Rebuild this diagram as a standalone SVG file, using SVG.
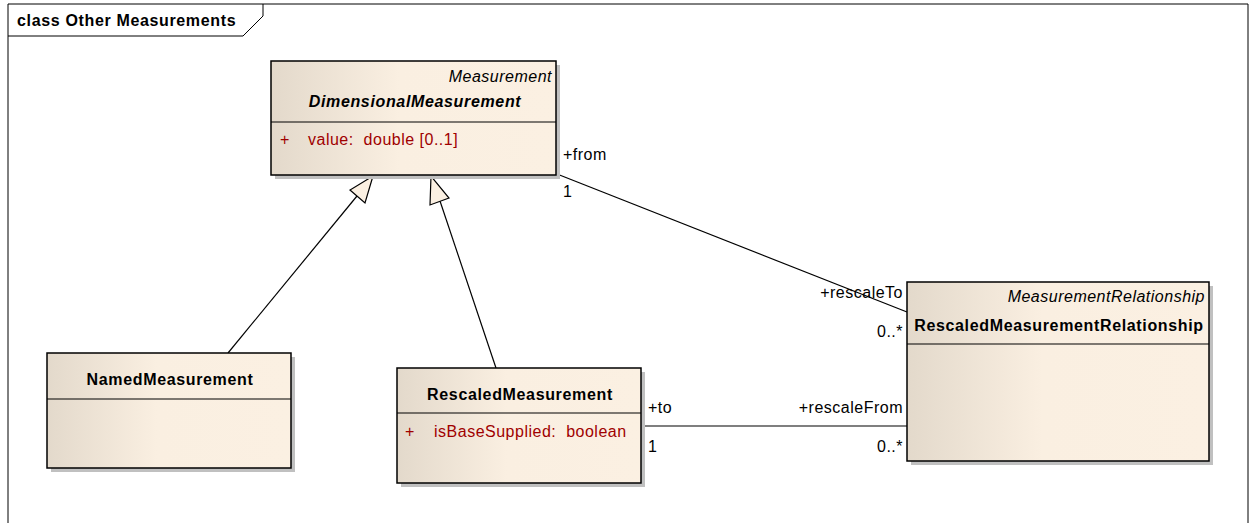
<svg xmlns="http://www.w3.org/2000/svg" width="1249" height="523" viewBox="0 0 1249 523">
<style>
text{font-family:"Liberation Sans",Arial,sans-serif;font-size:16px;letter-spacing:0.5px;fill:#000;white-space:pre}
.b{font-weight:bold;letter-spacing:0.65px}
.i{font-style:italic}
.r{fill:#A00000}
.box{fill:url(#g);stroke:#000;stroke-width:1.5}
.sh{fill:#C0C0C0}
.ln{stroke:#000;stroke-width:1.2;fill:none}
.tri{fill:#FBF0E2;stroke:#000;stroke-width:1.2}
</style>
<defs>
<linearGradient id="g" x1="0" y1="0" x2="1" y2="0">
<stop offset="0" stop-color="#E3D9CB"/>
<stop offset="0.45" stop-color="#FAEFE1"/>
<stop offset="1" stop-color="#FBF0E2"/>
</linearGradient>
</defs>
<rect width="1249" height="523" fill="#fff"/>
<g id="frame">
<path d="M8,530 V4 H1248 V530" fill="none" stroke="#000" stroke-width="1"/>
<path d="M8,36 H243 L263,16 V4" fill="none" stroke="#000" stroke-width="1"/>
<text x="17" y="26" class="b">class Other Measurements</text>
</g>
<g id="connectors">
<line class="ln" x1="557" y1="174" x2="907" y2="312"/>
<line class="ln" x1="641" y1="426" x2="907" y2="426"/>
<line class="ln" x1="228" y1="353" x2="357" y2="196"/>
<polygon class="tri" points="373,176 350,190 365,203"/>
<line class="ln" x1="496" y1="368" x2="440" y2="201"/>
<polygon class="tri" points="431,176 430,205 449,198"/>
<text x="563" y="160">+from</text>
<text x="563" y="197">1</text>
<text x="903" y="298" text-anchor="end">+rescaleTo</text>
<text x="903" y="337" text-anchor="end">0..*</text>
<text x="903" y="413" text-anchor="end">+rescaleFrom</text>
<text x="903" y="452" text-anchor="end">0..*</text>
<text x="648" y="413">+to</text>
<text x="648" y="452">1</text>
</g>
<g id="DimensionalMeasurement">
<rect class="sh" x="275" y="65" width="285" height="114"/>
<rect class="box" x="271" y="61" width="285" height="114"/>
<line class="ln" x1="271" y1="122" x2="556" y2="122"/>
<text x="552" y="82" class="i" text-anchor="end">Measurement</text>
<text x="415" y="107" class="b i" text-anchor="middle">DimensionalMeasurement</text>
<text x="280" y="145" class="r">+</text>
<text x="308" y="145" class="r">value:  double [0..1]</text>
</g>
<g id="NamedMeasurement">
<rect class="sh" x="51" y="357" width="244" height="115"/>
<rect class="box" x="47" y="353" width="244" height="115"/>
<line class="ln" x1="47" y1="399" x2="291" y2="399"/>
<text x="170" y="385" class="b" text-anchor="middle">NamedMeasurement</text>
</g>
<g id="RescaledMeasurement">
<rect class="sh" x="401" y="372" width="244" height="115"/>
<rect class="box" x="397" y="368" width="244" height="115"/>
<line class="ln" x1="397" y1="413" x2="641" y2="413"/>
<text x="520" y="400" class="b" text-anchor="middle">RescaledMeasurement</text>
<text x="405" y="437" class="r">+</text>
<text x="434" y="437" class="r">isBaseSupplied:  boolean</text>
</g>
<g id="RescaledMeasurementRelationship">
<rect class="sh" x="911" y="286" width="302" height="179"/>
<rect class="box" x="907" y="282" width="302" height="179"/>
<line class="ln" x1="907" y1="344" x2="1209" y2="344"/>
<text x="1205" y="302" class="i" text-anchor="end">MeasurementRelationship</text>
<text x="1059" y="331" class="b" text-anchor="middle">RescaledMeasurementRelationship</text>
</g>
</svg>
